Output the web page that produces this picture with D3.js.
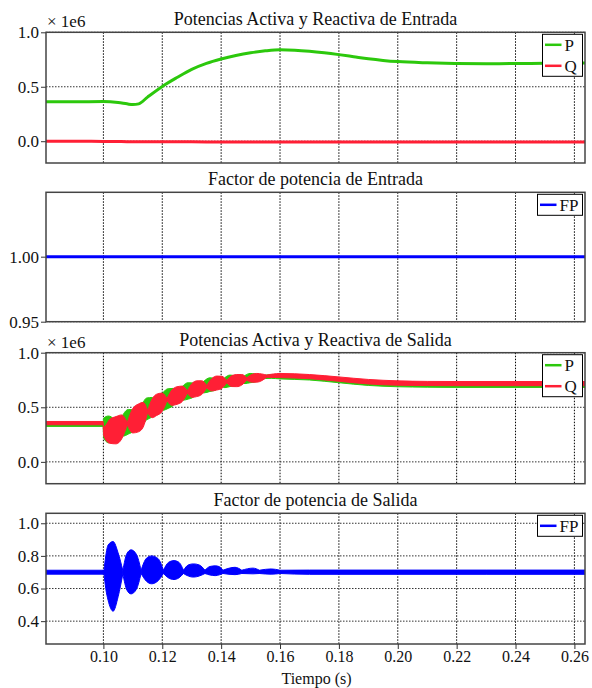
<!DOCTYPE html>
<html>
<head>
<meta charset="utf-8">
<script src="https://d3js.org/d3.v7.min.js"></script>
<style>
  body { margin: 0; background: #fff; }
  svg { display: block; }
</style>
</head>
<body>
<div id="chart"></div>
<script>
// tiempos y valores
const xTicks = [0.10, 0.12, 0.14, 0.16, 0.18, 0.20, 0.22, 0.24, 0.26];

// Potencias de entrada (x 1e6)
const entT = [0.0805, 0.09, 0.10, 0.105, 0.108, 0.110, 0.112, 0.115, 0.12, 0.125, 0.13, 0.135, 0.14, 0.145, 0.15, 0.155, 0.16, 0.165, 0.17, 0.175, 0.18, 0.185, 0.19, 0.195, 0.20, 0.21, 0.22, 0.23, 0.24, 0.25, 0.2636];
const entP = [0.362, 0.362, 0.364, 0.355, 0.343, 0.336, 0.343, 0.405, 0.503, 0.585, 0.66, 0.715, 0.755, 0.787, 0.812, 0.83, 0.84, 0.836, 0.826, 0.812, 0.795, 0.776, 0.757, 0.742, 0.731, 0.72, 0.714, 0.712, 0.713, 0.715, 0.717];
const entQ = [0.0, 0.0, -0.002, -0.003, -0.004, -0.004, -0.005, -0.005, -0.006, -0.006, -0.006, -0.007, -0.007, -0.007, -0.008, -0.008, -0.008, -0.008, -0.008, -0.008, -0.008, -0.008, -0.008, -0.008, -0.008, -0.008, -0.008, -0.008, -0.008, -0.008, -0.008];

// Factor de potencia de entrada
const fpEntT = [0.0805, 0.12, 0.16, 0.20, 0.24, 0.2636];
const fpEnt = [1.0, 1.0, 1.0, 1.0, 1.0, 1.0];

// Potencias de salida: envolventes (max / min) de la oscilacion
const salPT  = [0.0805, 0.0999, 0.1001, 0.1017, 0.1035, 0.1050,
  0.1067, 0.1085, 0.1101, 0.1117, 0.1132, 0.1147, 0.1165, 0.1183,
  0.1201, 0.1220, 0.1237, 0.1253, 0.1270, 0.1288, 0.1305, 0.1322,
  0.1342, 0.1362, 0.1379, 0.1396, 0.1413, 0.1430, 0.1447, 0.1464,
  0.1481, 0.1498, 0.1515, 0.1532, 0.157, 0.16, 0.17, 0.18, 0.19, 0.20, 0.21, 0.22, 0.24, 0.2636];
const salPHi = [0.355, 0.355, 0.40, 0.42, 0.39, 0.31,
  0.432, 0.48, 0.477, 0.40, 0.525, 0.585, 0.59, 0.53,
  0.628, 0.67, 0.673, 0.62, 0.695, 0.725, 0.7225, 0.675,
  0.74, 0.77, 0.763, 0.72, 0.772, 0.795, 0.787, 0.75,
  0.791, 0.81, 0.806, 0.78, 0.80, 0.80, 0.79, 0.765, 0.74, 0.722, 0.715, 0.712, 0.712, 0.712];
const salPLo = [0.325, 0.325, 0.22, 0.175, 0.20, 0.29,
  0.236, 0.255, 0.281, 0.38, 0.35, 0.385, 0.415, 0.51,
  0.472, 0.49, 0.517, 0.60, 0.565, 0.575, 0.5925, 0.655,
  0.632, 0.645, 0.655, 0.70, 0.68, 0.69, 0.695, 0.73,
  0.717, 0.725, 0.732, 0.76, 0.765, 0.76, 0.75, 0.725, 0.70, 0.688, 0.684, 0.682, 0.682, 0.682];

const salQT  = [0.0805, 0.0999, 0.1001, 0.1022, 0.1043, 0.1062, 0.1081,
  0.1100, 0.1119, 0.1135, 0.1150, 0.1166, 0.1181, 0.1199, 0.1216,
  0.1233, 0.1250, 0.1268, 0.1285, 0.1301, 0.1317, 0.1334, 0.1351,
  0.1368, 0.1385, 0.1402, 0.1419, 0.1436, 0.1453, 0.1470, 0.1487,
  0.1504, 0.1521, 0.1555, 0.16, 0.17, 0.18, 0.19, 0.20, 0.21, 0.22, 0.24, 0.2636];
const salQHi = [0.37, 0.37, 0.32, 0.39, 0.415, 0.43, 0.36,
  0.49, 0.53, 0.545, 0.47, 0.578, 0.62, 0.63, 0.58,
  0.66, 0.688, 0.694, 0.65, 0.718, 0.742, 0.743, 0.70,
  0.762, 0.786, 0.784, 0.745, 0.789, 0.80, 0.80, 0.77,
  0.80, 0.81, 0.795, 0.81, 0.80, 0.778, 0.755, 0.742, 0.737, 0.736, 0.736, 0.736];
const salQLo = [0.34, 0.34, 0.24, 0.17, 0.165, 0.21, 0.34,
  0.265, 0.275, 0.318, 0.45, 0.405, 0.425, 0.46, 0.56,
  0.518, 0.527, 0.553, 0.63, 0.591, 0.598, 0.617, 0.68,
  0.65, 0.658, 0.673, 0.725, 0.69, 0.689, 0.704, 0.75,
  0.73, 0.73, 0.775, 0.772, 0.762, 0.738, 0.714, 0.702, 0.699, 0.698, 0.698, 0.698];

// Factor de potencia de salida: envolventes
const fpSalT  = [0.0805, 0.0999, 0.1002, 0.1008, 0.1016, 0.1033, 0.1050, 0.1066,
  0.1080, 0.1094, 0.1112, 0.1128, 0.1146, 0.1164, 0.1186, 0.1204,
  0.1221, 0.1240, 0.1257, 0.1272, 0.1289, 0.1306, 0.1326, 0.1345,
  0.1362, 0.1380, 0.1394, 0.1406, 0.1447, 0.1470, 0.1508, 0.1530, 0.1570, 0.1600, 0.17, 0.20, 0.23, 0.2636];
const fpSalHi = [0.712, 0.712, 0.71, 0.80, 0.867, 0.888, 0.818, 0.71,
  0.815, 0.837, 0.81, 0.712, 0.785, 0.80, 0.783, 0.712,
  0.76, 0.771, 0.76, 0.712, 0.745, 0.751, 0.744, 0.712,
  0.735, 0.739, 0.734, 0.712, 0.73, 0.712, 0.725, 0.712, 0.72, 0.712, 0.713, 0.713, 0.713, 0.713];
const fpSalLo = [0.688, 0.688, 0.69, 0.60, 0.528, 0.461, 0.55, 0.69,
  0.59, 0.567, 0.595, 0.692, 0.645, 0.629, 0.648, 0.692,
  0.665, 0.655, 0.666, 0.692, 0.676, 0.67, 0.677, 0.692,
  0.683, 0.679, 0.684, 0.692, 0.685, 0.692, 0.69, 0.692, 0.688, 0.692, 0.687, 0.687, 0.687, 0.687];

const verde = "#2cc80c", rojo = "#ff1f35", azul = "#0000ff";
const W = 592, H = 688;
const left = 46, right = 585;
const fuente = "'Liberation Serif', 'Times New Roman', Times, 'DejaVu Serif', serif";

const svg = d3.select("#chart").append("svg").attr("width", W).attr("height", H)
  .attr("font-family", fuente);

const x = d3.scaleLinear().domain([0.0805, 0.2636]).range([left, right]);

// paneles: arriba, abajo, dominio y, ticks
const panels = [
  { top: 32.3, bottom: 163, dom: [-0.2, 1.0], ticks: [0, 0.5, 1.0], fmt: ".1f", title: "Potencias Activa y Reactiva de Entrada", mult: true },
  { top: 192.3, bottom: 321.7, dom: [0.95, 1.0495], ticks: [0.95, 1.00], fmt: ".2f", title: "Factor de potencia de Entrada" },
  { top: 352.7, bottom: 483.7, dom: [-0.2, 1.0], ticks: [0, 0.5, 1.0], fmt: ".1f", title: "Potencias Activa y Reactiva de Salida", mult: true },
  { top: 513.3, bottom: 644, dom: [0.26, 1.061], ticks: [0.4, 0.6, 0.8, 1.0], fmt: ".1f", title: "Factor de potencia de Salida" }
];

// divide la envolvente en lobulos (los nodos son puntos muy estrechos)
function lobes(T, Hi, Lo) {
  const segs = [];
  let cur = [];
  T.forEach((t, i) => {
    const p = { t: t, h: Hi[i], l: Lo[i] };
    cur.push(p);
    if (Hi[i] - Lo[i] < 0.025 && cur.length > 1) {
      segs.push(cur);
      cur = [p];
    }
  });
  if (cur.length > 1) segs.push(cur);
  return segs;
}

panels.forEach((p, k) => {
  const y = d3.scaleLinear().domain(p.dom).range([p.bottom, p.top]);
  p.y = y;
  const g = svg.append("g");

  const clipId = "clip" + k;
  svg.append("clipPath").attr("id", clipId)
    .append("rect").attr("x", left).attr("y", p.top).attr("width", right - left).attr("height", p.bottom - p.top);
  p.clip = "url(#" + clipId + ")";

  // rejilla
  g.selectAll(".vg").data(xTicks).enter().append("line")
    .attr("x1", d => x(d)).attr("x2", d => x(d))
    .attr("y1", p.top).attr("y2", p.bottom)
    .attr("stroke", "#000").attr("stroke-width", 1).attr("stroke-dasharray", "1.5,1.5");
  g.selectAll(".hg").data(p.ticks).enter().append("line")
    .attr("x1", left).attr("x2", right)
    .attr("y1", d => y(d)).attr("y2", d => y(d))
    .attr("stroke", "#333").attr("stroke-width", 1).attr("stroke-dasharray", "1.5,1.5");

  // eje y
  const ax = g.append("g").attr("transform", `translate(${left},0)`)
    .call(d3.axisLeft(y).tickValues(p.ticks).tickFormat(d3.format(p.fmt)).tickSize(5).tickPadding(2));
  ax.attr("font-family", fuente).attr("font-size", 17);
  ax.select(".domain").remove();
  ax.selectAll("text").attr("fill", "#111");
  ax.selectAll("line").attr("stroke", "#333");

  // titulo
  svg.append("text").attr("x", (left + right) / 2).attr("y", p.top - 7)
    .attr("text-anchor", "middle").attr("font-size", 18).attr("fill", "#111").text(p.title);
  if (p.mult) {
    svg.append("text").attr("x", left + 1).attr("y", p.top - 5)
      .attr("font-size", 17).attr("fill", "#111").text("× 1e6");
  }
});

// Panel 1: P y Q de entrada
{
  const p = panels[0];
  const line = (vals) => d3.line().x((d, i) => x(entT[i])).y(d => p.y(d)).curve(d3.curveMonotoneX)(vals);
  const lg = svg.append("g").attr("clip-path", p.clip);
  lg.append("path").attr("d", line(entP)).attr("fill", "none").attr("stroke", verde).attr("stroke-width", 3);
  lg.append("path").attr("d", line(entQ)).attr("fill", "none").attr("stroke", rojo).attr("stroke-width", 3);
}

// Panel 2: FP de entrada
{
  const p = panels[1];
  const line = d3.line().x((d, i) => x(fpEntT[i])).y(d => p.y(d));
  svg.append("g").attr("clip-path", p.clip).append("path").attr("d", line(fpEnt))
    .attr("fill", "none").attr("stroke", azul).attr("stroke-width", 3);
}

function drawBand(p, T, Hi, Lo, color) {
  const area = d3.area().x(d => x(d.t)).y0(d => p.y(d.l)).y1(d => p.y(d.h)).curve(d3.curveMonotoneX);
  const gg = svg.append("g").attr("clip-path", p.clip);
  lobes(T, Hi, Lo).forEach(seg => {
    gg.append("path").attr("d", area(seg)).attr("fill", color)
      .attr("stroke", color).attr("stroke-width", 1).attr("stroke-linejoin", "round");
  });
}

// Panel 3: P y Q de salida
drawBand(panels[2], salPT, salPHi, salPLo, verde);
drawBand(panels[2], salQT, salQHi, salQLo, rojo);

// Panel 4: FP de salida
drawBand(panels[3], fpSalT, fpSalHi, fpSalLo, azul);

// marcos
panels.forEach(p => {
  svg.append("rect").attr("x", left).attr("y", p.top).attr("width", right - left).attr("height", p.bottom - p.top)
    .attr("fill", "none").attr("stroke", "#444").attr("stroke-width", 1.5);
});

// leyendas
function legend(p, items) {
  const w = items[0].name.length > 1 ? 45 : 40;
  const h = items.length * 21;
  const x0 = 582.5 - w, y0 = p.top + 2;
  const lg = svg.append("g");
  lg.append("rect").attr("x", x0).attr("y", y0).attr("width", w).attr("height", h)
    .attr("fill", "#fff").attr("stroke", "#000").attr("stroke-width", 1);
  items.forEach((it, i) => {
    const cy = y0 + 10.5 + i * 21;
    lg.append("line").attr("x1", x0 + 2.5).attr("x2", x0 + 19).attr("y1", cy).attr("y2", cy)
      .attr("stroke", it.color).attr("stroke-width", 2.5);
    lg.append("text").attr("x", x0 + 22).attr("y", cy + 6).attr("font-size", 17).attr("fill", "#111").text(it.name);
  });
}
legend(panels[0], [{ name: "P", color: verde }, { name: "Q", color: rojo }]);
legend(panels[1], [{ name: "FP", color: azul }]);
legend(panels[2], [{ name: "P", color: verde }, { name: "Q", color: rojo }]);
legend(panels[3], [{ name: "FP", color: azul }]);

// eje x inferior
{
  const p = panels[3];
  const ax = svg.append("g").attr("transform", `translate(0,${p.bottom})`)
    .call(d3.axisBottom(x).tickValues(xTicks).tickFormat(d3.format(".2f")).tickSize(5).tickPadding(2));
  ax.attr("font-family", fuente).attr("font-size", 16);
  ax.select(".domain").remove();
  ax.selectAll("text").attr("fill", "#111");
  ax.selectAll("line").attr("stroke", "#333");
  svg.append("text").attr("x", (left + right) / 2 + 1).attr("y", 684)
    .attr("text-anchor", "middle").attr("font-size", 16).attr("fill", "#111").text("Tiempo (s)");
}
</script>
</body>
</html>
